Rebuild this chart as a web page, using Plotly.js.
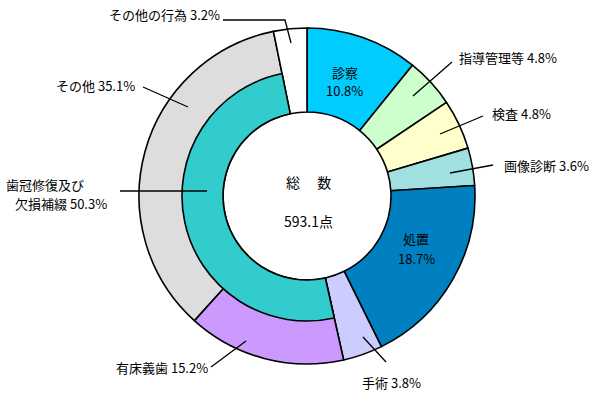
<!DOCTYPE html>
<html>
<head>
<meta charset="utf-8">
<script src="https://cdn.plot.ly/plotly-3.0.1.min.js"></script>
<style>html,body{margin:0;padding:0;background:#fff;}#chart{width:600px;height:396px;}</style>
</head>
<body>
<div id="chart"></div>
<script>
// ---- data ----
const labels = ['診察','指導管理等','検査','画像診断','処置','手術','有床義歯','その他','その他の行為'];
const values = [10.8, 4.8, 4.8, 3.6, 18.7, 3.8, 15.2, 35.1, 3.2];
const colors = ['#00CCFF','#CCFFCC','#FFFFCC','#A0E0E0','#0080C0','#CCCCFF','#CC99FF','#DDDDDD','#FFFFFF'];
const innerLabel1 = '歯冠修復及び';
const innerLabel2 = '欠損補綴';
const innerValue = 50.3;
const innerStartIndex = 6; // inner ring begins at 有床義歯
const centerTitle = '総　 数';
const centerTotal = '593.1点';

// ---- geometry helpers (pixels -> paper) ----
const W = 600, H = 396;
const cx = 307, cy = 196;
const rOuter = 168, rMid = 125, rHole = 84;
const px = x => x / W;
const py = y => 1 - y / H;

const before = values.slice(0, innerStartIndex).reduce((a, b) => a + b, 0);
const after = values.reduce((a, b) => a + b, 0) - before - innerValue;

const outer = {
  type: 'pie', values: values, labels: labels, sort: false,
  direction: 'clockwise', rotation: 0, hole: rHole / rOuter,
  marker: {colors: colors, line: {color: '#000', width: 1.6}},
  textinfo: 'none', hoverinfo: 'skip', showlegend: false, automargin: false,
  domain: {x: [px(cx - rOuter), px(cx + rOuter)], y: [py(cy + rOuter), py(cy - rOuter)]}
};
const inner = {
  type: 'pie', values: [before, innerValue, after], labels: ['a', innerLabel1 + innerLabel2, 'b'], sort: false,
  direction: 'clockwise', rotation: 0, hole: rHole / rMid,
  marker: {colors: ['rgba(0,0,0,0)', '#33CCCC', 'rgba(0,0,0,0)'], line: {color: '#000', width: [0, 1.6, 0]}},
  textinfo: 'none', hoverinfo: 'skip', showlegend: false, automargin: false,
  domain: {x: [px(cx - rMid), px(cx + rMid)], y: [py(cy + rMid), py(cy - rMid)]}
};

const fam = '"Noto Sans CJK JP", "Noto Sans", sans-serif';
const font = {family: fam, size: 13, color: '#000'};
const pct = v => v.toFixed(1) + '%';
const lbl = i => labels[i] + ' ' + pct(values[i]);

function ann(text, x, y, xanchor, size) {
  return {text: text, x: px(x), y: py(y), xref: 'paper', yref: 'paper', xanchor: xanchor, yanchor: 'middle',
          showarrow: false, font: Object.assign({}, font, size ? {size: size} : {})};
}
const annotations = [
  ann(lbl(8), 222, 14, 'right'),
  ann(lbl(7), 137, 85, 'right'),
  ann(innerLabel1, 4, 185, 'left'),
  ann(innerLabel2 + ' ' + pct(innerValue), 109, 203, 'right'),
  ann(labels[0], 345, 72, 'center'),
  ann(pct(values[0]), 344, 90, 'center'),
  ann(lbl(1), 457, 58, 'left'),
  ann(lbl(2), 490, 113, 'left'),
  ann(lbl(3), 502, 165, 'left'),
  ann(labels[4], 416, 239, 'center'),
  ann(pct(values[4]), 416, 258, 'center'),
  ann(lbl(5), 360, 382, 'left'),
  ann(lbl(6), 210, 367, 'right'),
  ann(centerTitle, 308, 182, 'center', 14),
  ann(centerTotal, 308, 221, 'center', 14)
];

function seg(points) {
  const d = points.map((p, i) => (i ? 'L' : 'M') + px(p[0]) + ',' + py(p[1])).join(' ');
  return {type: 'path', xref: 'paper', yref: 'paper', path: d, line: {color: '#000', width: 1.3}};
}
const shapes = [
  seg([[223, 20], [285, 20], [291, 43]]),
  seg([[143, 87], [188, 107]]),
  seg([[120, 191], [207, 191]]),
  seg([[452, 62], [413, 96]]),
  seg([[483, 116], [440, 134]]),
  seg([[493, 165], [450, 173]]),
  seg([[386, 362], [363, 337]]),
  seg([[211, 367], [246, 341]])
];

const layout = {
  width: W, height: H, margin: {l: 0, r: 0, t: 0, b: 0},
  paper_bgcolor: '#fff', plot_bgcolor: '#fff',
  showlegend: false, annotations: annotations, shapes: shapes
};
Plotly.newPlot('chart', [outer, inner], layout, {staticPlot: true});
</script>
</body>
</html>
